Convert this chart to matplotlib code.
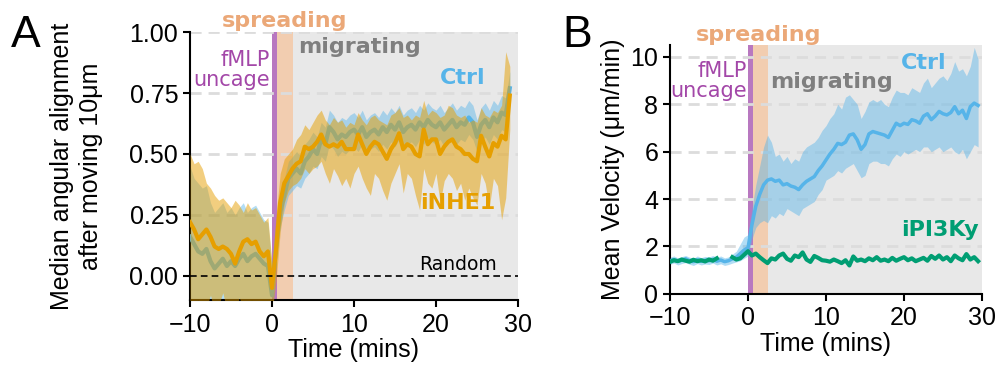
import numpy as np
import matplotlib
matplotlib.use("Agg")
import matplotlib.pyplot as plt

plt.rcParams["font.family"] = ["Liberation Sans", "DejaVu Sans"]
ANN = "DejaVu Sans"  # annotation font

# ---- data (0.5 min steps) ----
time_a = np.arange(-10, 29.01, 0.5)
time_b = np.arange(-10, 29.51, 0.5)

# Panel A: median angular alignment
ctrl_a = [0.16, 0.13, 0.10, 0.09, 0.11, 0.06, 0.03, 0.05, 0.07, 0.04,
          0.06, 0.04, 0.07, 0.09, 0.06, 0.08, 0.09, 0.07, 0.05, 0.04,
          -0.08, 0.12, 0.26, 0.33, 0.40, 0.42, 0.44, 0.42, 0.47, 0.49,
          0.52, 0.50, 0.56, 0.54, 0.61, 0.59, 0.56, 0.58, 0.57, 0.59,
          0.60, 0.58, 0.61, 0.57, 0.59, 0.60, 0.58, 0.61, 0.59, 0.62,
          0.60, 0.63, 0.59, 0.61, 0.62, 0.60, 0.63, 0.61, 0.64, 0.62,
          0.61, 0.63, 0.60, 0.62, 0.64, 0.61, 0.63, 0.62, 0.65, 0.63,
          0.57, 0.62, 0.64, 0.61, 0.65, 0.63, 0.67, 0.66, 0.77]
ctrl_a_lo = [-0.15, -0.12, -0.18, -0.14, -0.16, -0.13, -0.18, -0.15, -0.17, -0.14,
             -0.16, -0.13, -0.15, -0.17, -0.14, -0.16, -0.12, -0.15, -0.14, -0.13,
             -0.20, 0.05, 0.20, 0.27, 0.33, 0.35, 0.37, 0.36, 0.40, 0.42,
             0.45, 0.44, 0.49, 0.47, 0.54, 0.52, 0.49, 0.51, 0.50, 0.52,
             0.53, 0.51, 0.54, 0.50, 0.52, 0.53, 0.51, 0.54, 0.52, 0.55,
             0.53, 0.56, 0.52, 0.54, 0.55, 0.53, 0.56, 0.54, 0.57, 0.55,
             0.54, 0.56, 0.53, 0.55, 0.57, 0.54, 0.56, 0.55, 0.58, 0.56,
             0.51, 0.55, 0.57, 0.54, 0.58, 0.56, 0.60, 0.59, 0.70]
ctrl_a_hi = [0.45, 0.40, 0.38, 0.36, 0.37, 0.30, 0.26, 0.28, 0.30, 0.26,
             0.28, 0.25, 0.28, 0.30, 0.26, 0.28, 0.29, 0.26, 0.23, 0.22,
             0.04, 0.20, 0.33, 0.40, 0.47, 0.49, 0.51, 0.49, 0.54, 0.56,
             0.59, 0.57, 0.63, 0.61, 0.68, 0.66, 0.63, 0.65, 0.64, 0.66,
             0.67, 0.65, 0.68, 0.64, 0.66, 0.67, 0.65, 0.68, 0.66, 0.69,
             0.67, 0.70, 0.66, 0.68, 0.69, 0.67, 0.70, 0.68, 0.71, 0.69,
             0.68, 0.70, 0.67, 0.69, 0.71, 0.68, 0.70, 0.69, 0.72, 0.70,
             0.64, 0.69, 0.71, 0.68, 0.72, 0.70, 0.74, 0.73, 0.84]

nhe1_a = [0.22, 0.19, 0.15, 0.17, 0.19, 0.16, 0.12, 0.11, 0.12, 0.11,
          0.09, 0.05, 0.10, 0.14, 0.15, 0.13, 0.14, 0.10, 0.08, 0.10,
          -0.05, 0.11, 0.30, 0.38, 0.41, 0.44, 0.46, 0.47, 0.53, 0.52,
          0.53, 0.55, 0.58, 0.54, 0.53, 0.54, 0.53, 0.55, 0.52, 0.52,
          0.52, 0.58, 0.54, 0.50, 0.53, 0.55, 0.54, 0.51, 0.48, 0.52,
          0.545, 0.585, 0.52, 0.54, 0.53, 0.50, 0.49, 0.60, 0.54, 0.56,
          0.56, 0.50, 0.53, 0.55, 0.56, 0.53, 0.52, 0.50, 0.50, 0.48,
          0.47, 0.575, 0.53, 0.49, 0.545, 0.53, 0.575, 0.56, 0.74]
nhe1_a_lo = [-0.12, -0.15, -0.10, -0.14, -0.13, -0.08, -0.15, -0.12, -0.07, -0.14,
             -0.11, -0.15, -0.09, -0.13, -0.15, -0.10, -0.14, -0.12, -0.15, -0.13,
             -0.15, -0.02, 0.18, 0.30, 0.35, 0.37, 0.38, 0.40, 0.44, 0.42,
             0.44, 0.45, 0.47, 0.42, 0.38, 0.44, 0.41, 0.37, 0.40, 0.36,
             0.42, 0.45, 0.40, 0.36, 0.33, 0.42, 0.40, 0.35, 0.31, 0.38,
             0.42, 0.46, 0.34, 0.42, 0.40, 0.33, 0.27, 0.44, 0.38, 0.36,
             0.42, 0.30, 0.39, 0.42, 0.40, 0.35, 0.38, 0.31, 0.36, 0.32,
             0.29, 0.42, 0.38, 0.28, 0.40, 0.37, 0.23, 0.32, 0.60]
nhe1_a_hi = [0.50, 0.46, 0.47, 0.44, 0.38, 0.36, 0.33, 0.31, 0.32, 0.30,
             0.28, 0.31, 0.29, 0.26, 0.30, 0.27, 0.28, 0.25, 0.22, 0.24,
             0.05, 0.25, 0.42, 0.48, 0.50, 0.52, 0.56, 0.58, 0.62, 0.60,
             0.63, 0.66, 0.68, 0.64, 0.62, 0.65, 0.63, 0.64, 0.61, 0.63,
             0.62, 0.67, 0.64, 0.62, 0.65, 0.66, 0.64, 0.63, 0.62, 0.66,
             0.67, 0.69, 0.65, 0.66, 0.64, 0.66, 0.65, 0.72, 0.66, 0.68,
             0.67, 0.65, 0.66, 0.70, 0.69, 0.66, 0.65, 0.66, 0.63, 0.64,
             0.63, 0.69, 0.66, 0.65, 0.68, 0.67, 0.70, 0.92, 0.86]

# Panel B: mean velocity (um/min)
ctrl_b = [1.40, 1.45, 1.38, 1.42, 1.48, 1.40, 1.36, 1.44, 1.38, 1.42,
          1.40, 1.46, 1.38, 1.43, 1.36, 1.40, 1.48, 1.55, 1.70, 1.85,
          1.95, 2.90, 3.70, 4.20, 4.60, 4.80, 4.85, 4.75, 4.80, 4.60,
          4.65, 4.55, 4.50, 4.40, 4.60, 4.75, 4.85, 4.95, 5.20, 5.40,
          5.65, 5.90, 6.10, 6.35, 6.30, 6.40, 6.70, 6.75, 6.50, 6.10,
          6.30, 6.75, 6.85, 6.80, 6.75, 6.70, 6.60, 6.90, 7.20, 7.10,
          7.20, 7.15, 7.35, 7.30, 7.20, 7.50, 7.60, 7.35, 7.50, 7.70,
          7.60, 7.55, 7.65, 7.90, 7.60, 7.75, 7.40, 7.90, 8.05, 7.95]
ctrl_b_lo = [1.25, 1.30, 1.22, 1.28, 1.32, 1.25, 1.20, 1.28, 1.22, 1.26,
             1.24, 1.30, 1.22, 1.27, 1.20, 1.24, 1.30, 1.35, 1.40, 1.50,
             1.60, 2.30, 2.80, 3.00, 3.10, 3.00, 3.30, 3.20, 3.40, 3.30,
             3.60, 3.50, 3.40, 3.30, 3.60, 3.70, 3.80, 3.90, 4.20, 4.40,
             4.80, 4.90, 5.00, 5.20, 5.10, 5.30, 5.40, 5.50, 5.20, 4.90,
             5.00, 5.50, 5.60, 5.60, 5.50, 5.50, 5.40, 5.70, 5.90, 5.80,
             6.00, 5.90, 6.00, 6.10, 6.00, 6.20, 6.20, 6.00, 6.10, 6.20,
             6.00, 6.10, 6.20, 6.00, 5.90, 6.10, 5.70, 6.00, 6.30, 6.20]
ctrl_b_hi = [1.55, 1.60, 1.52, 1.57, 1.62, 1.55, 1.50, 1.60, 1.53, 1.58,
             1.56, 1.62, 1.54, 1.60, 1.52, 1.56, 1.68, 1.80, 2.10, 2.40,
             2.50, 3.60, 4.60, 5.40, 6.20, 6.70, 6.40, 5.80, 5.90, 5.60,
             5.80, 5.50, 5.70, 5.60, 6.00, 6.20, 6.30, 6.40, 6.60, 6.90,
             7.10, 7.40, 7.60, 8.00, 7.80, 8.30, 8.40, 8.20, 8.00, 7.40,
             7.70, 8.10, 8.20, 8.10, 8.20, 8.00, 7.90, 8.30, 8.60, 8.50,
             8.50, 8.40, 8.70, 8.60, 8.50, 8.90, 9.10, 8.70, 8.90, 9.10,
             9.20, 9.00, 9.30, 9.80, 9.40, 9.50, 9.20, 9.60, 10.40, 9.90]
pi3k_b = [1.35, 1.42, 1.38, 1.45, 1.40, 1.36, 1.44, 1.38, 1.42, 1.37,
          1.45, 1.40, 1.50, np.nan, np.nan, np.nan, 1.55, 1.45, 1.50, 1.65,
          1.80, 1.62, 1.70, 1.55, 1.42, 1.30, 1.50, 1.45, 1.62, 1.70,
          1.48, 1.40, 1.62, 1.55, 1.75, 1.45, 1.35, 1.60, 1.52, 1.42,
          1.40, 1.36, 1.45, 1.38, 1.30, 1.42, 1.20, 1.58, 1.40, 1.45,
          1.38, 1.50, 1.42, 1.55, 1.40, 1.45, 1.38, 1.52, 1.40, 1.48,
          1.55, 1.42, 1.50, 1.38, 1.45, 1.52, 1.40, 1.60, 1.48, 1.62,
          1.45, 1.55, 1.38, 1.62, 1.50, 1.42, 1.68, 1.45, 1.55, 1.38]

# colours
c_ctrl = '#56B4E9'
c_nhe1 = '#E69F00'
c_pi3k = '#009E73'
c_fmlp = '#A347A8'
c_spread = '#EBA878'
c_migr = '#7F7F7F'


def decorate(ax, ylim, grid_vals):
    ax.axvspan(2.5, 30, color='#e8e8e8', zorder=0, lw=0)
    ax.axvspan(0.6, 2.5, color='#f2cdb0', zorder=0.5, lw=0)
    ax.axvspan(0, 0.6, color='#b878c0', zorder=0.6, lw=0)
    for g in grid_vals:
        ax.axhline(g, color='#dcdcdc', lw=2, ls=(0, (4, 2.5)), zorder=0.7)
    ax.set_xlim(-10, 30)
    ax.set_ylim(*ylim)
    ax.set_xticks([-10, 0, 10, 20, 30])
    for s in ['top', 'right']:
        ax.spines[s].set_visible(False)
    for s in ['left', 'bottom']:
        ax.spines[s].set_linewidth(1.5)
    ax.tick_params(labelsize=18, width=1.5, length=5)
    ax.tick_params(axis='x', pad=4)
    ax.set_xlabel('Time (mins)', fontsize=18, labelpad=1)


def note(ax, x, y, s, color, size=16, bold=True, **kw):
    ax.text(x, y, s, color=color, fontsize=size, family=ANN,
            fontweight='bold' if bold else 'normal', va='center', **kw)


fig = plt.figure(figsize=(10, 3.66), dpi=100)

# ---- Panel A ----
ax1 = fig.add_axes([0.19, 0.180, 0.328, 0.732])
decorate(ax1, (-0.1, 1.0), [0.25, 0.5, 0.75, 1.0])
ax1.fill_between(time_a, ctrl_a_lo, ctrl_a_hi, color=c_ctrl, alpha=0.45, lw=0, zorder=2)
ax1.plot(time_a, ctrl_a, color=c_ctrl, lw=3, zorder=3)
ax1.fill_between(time_a, nhe1_a_lo, nhe1_a_hi, color=c_nhe1, alpha=0.5, lw=0, zorder=4)
ax1.plot(time_a, nhe1_a, color=c_nhe1, lw=3, zorder=5)
ax1.axhline(0, color='black', lw=1.2, ls=(0, (4, 2.5)), zorder=6)
ax1.set_yticks([0, 0.25, 0.5, 0.75, 1.0])
ax1.set_yticklabels(['0.00', '0.25', '0.50', '0.75', '1.00'])
ax1.set_ylabel('Median angular alignment\nafter moving 10μm', fontsize=18,
               labelpad=19, linespacing=1.25)

note(ax1, 1.6, 1.045, 'spreading', c_spread, ha='center', clip_on=False)
note(ax1, 10.7, 0.94, 'migrating', c_migr, ha='center')
note(ax1, -0.3, 0.845, 'fMLP\nuncage', c_fmlp, size=15, bold=False, ha='right',
     multialignment='right', linespacing=1.0)
note(ax1, 26.0, 0.81, 'Ctrl', c_ctrl, ha='right')
note(ax1, 27.2, 0.30, 'iNHE1', c_nhe1, ha='right')
note(ax1, 27.4, 0.045, 'Random', 'black', size=13.5, bold=False, ha='right')

# ---- Panel B ----
ax2 = fig.add_axes([0.670, 0.197, 0.312, 0.680])
decorate(ax2, (0, 10.5), [2, 4, 6, 8, 10])
ax2.fill_between(time_b, ctrl_b_lo, ctrl_b_hi, color=c_ctrl, alpha=0.45, lw=0, zorder=2)
ax2.plot(time_b, ctrl_b, color=c_ctrl, lw=2.5, zorder=3)
ax2.plot(time_b, pi3k_b, color=c_pi3k, lw=3, zorder=4)
ax2.set_yticks([0, 2, 4, 6, 8, 10])
ax2.set_ylabel('Mean Velocity (μm/min)', fontsize=18, labelpad=4)

note(ax2, 1.4, 10.93, 'spreading', c_spread, ha='center', clip_on=False)
note(ax2, 10.7, 8.95, 'migrating', c_migr, ha='center')
note(ax2, -0.15, 9.0, 'fMLP\nuncage', c_fmlp, size=15, bold=False, ha='right',
     multialignment='right', linespacing=1.0)
note(ax2, 25.4, 9.73, 'Ctrl', c_ctrl, ha='right')
note(ax2, 29.6, 2.7, 'iPI3Ky', c_pi3k, ha='right')

fig.text(0.011, 0.96, 'A', fontsize=32, va='top')
fig.text(0.562, 0.96, 'B', fontsize=32, va='top')

fig.savefig('out.png', dpi=100)
